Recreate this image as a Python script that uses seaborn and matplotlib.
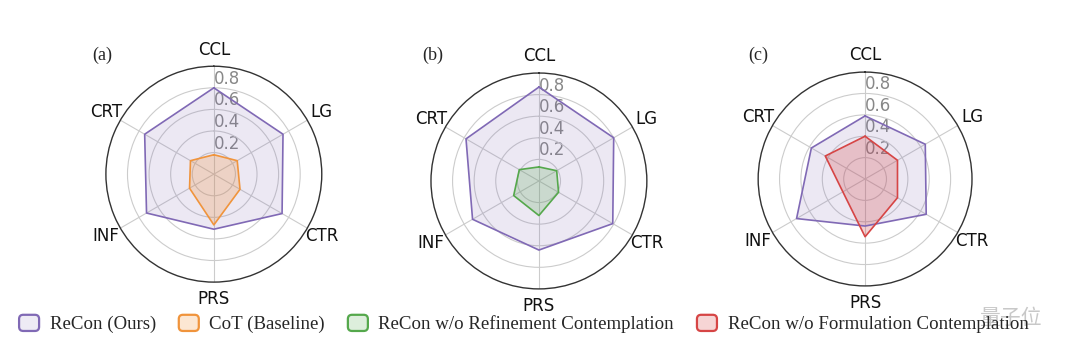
"""Radar charts comparing ReCon with its baselines / ablations (saved PNG)."""

import matplotlib

matplotlib.use("Agg")
import matplotlib.pyplot as plt
import numpy as np
import seaborn as sns
from matplotlib.colors import to_rgb
from matplotlib.legend_handler import HandlerPatch
from matplotlib.patches import FancyBboxPatch, Patch

# metric names, clockwise from the top
METRICS = ["CCL", "LG", "CTR", "PRS", "INF", "CRT"]
R_TICKS = [0.2, 0.4, 0.6, 0.8]

# (a) ReCon vs CoT
recon_a = [0.80, 0.74, 0.73, 0.51, 0.72, 0.74]
cot_a = [0.18, 0.25, 0.28, 0.47, 0.26, 0.25]
# (b) ReCon vs ReCon w/o refinement contemplation
recon_b = [0.87, 0.80, 0.79, 0.64, 0.71, 0.78]
wo_refine_b = [0.13, 0.19, 0.21, 0.32, 0.27, 0.21]
# (c) ReCon vs ReCon w/o formulation contemplation
recon_c = [0.59, 0.65, 0.66, 0.44, 0.74, 0.58]
wo_form_c = [0.40, 0.35, 0.35, 0.54, 0.24, 0.43]

LEGEND_NAMES = [
    "ReCon (Ours)",
    "CoT (Baseline)",
    "ReCon w/o Refinement Contemplation",
    "ReCon w/o Formulation Contemplation",
]

sns.set_theme(style="white")
plt.rcParams["font.family"] = ["DejaVu Sans", "Noto Sans CJK SC"]

colors = {
    "recon": "#8069b5",
    "cot": "#f0943c",
    "refine": "#55a84c",
    "form": "#d64545",
}
alphas = {"recon": 0.15, "cot": 0.25, "refine": 0.22, "form": 0.25}

angles = np.linspace(0, 2 * np.pi, len(METRICS), endpoint=False)


def tint(c, a):
    r = np.array(to_rgb(c))
    return tuple(1 - a + a * r)


# rounded square legend keys
class RoundBox(HandlerPatch):
    def create_artists(self, legend, orig, xd, yd, w, h, fontsize, trans):
        p = FancyBboxPatch((-xd + 1.5, -yd + 1.5), w - 3, h - 3,
                           boxstyle="round,pad=0,rounding_size=3",
                           fc=orig.get_facecolor(), ec=orig.get_edgecolor(),
                           lw=orig.get_linewidth(), transform=trans)
        return [p]


def radar(ax, series):
    ax.set_theta_offset(np.pi / 2)
    ax.set_theta_direction(-1)
    for vals, key in series:
        v = np.append(vals, vals[0])
        a = np.append(angles, angles[0])
        ax.fill(a, v, color=colors[key], alpha=alphas[key], lw=0)
        ax.plot(a, v, color=colors[key], lw=1.2)
    ax.set_ylim(0, 1.0)
    ax.set_xticks(angles)
    ax.set_xticklabels(METRICS, fontsize=12, color="#111111")
    ax.tick_params(axis="x", pad=-1)
    ax.set_yticks(R_TICKS)
    ax.set_yticklabels([f"{t:.1f}" for t in R_TICKS], fontsize=12, color="#888888")
    ax.set_rlabel_position(0)
    for lab in ax.get_yticklabels():
        lab.set_horizontalalignment("left")
        lab.set_verticalalignment("bottom")
    ax.grid(True, color="#cccccc", lw=0.8)
    ax.spines["polar"].set_color("#333333")
    ax.spines["polar"].set_linewidth(1.0)
    ax.set_facecolor("white")
    return ax


fig = plt.figure(figsize=(10.8, 3.58), dpi=100)
ax_a = fig.add_axes([0.098, 0.212, 0.2, 0.603], projection="polar")
ax_b = fig.add_axes([0.399, 0.193, 0.2, 0.603], projection="polar")
ax_c = fig.add_axes([0.702, 0.201, 0.198, 0.598], projection="polar")

radar(ax_a, [(recon_a, "recon"), (cot_a, "cot")])
radar(ax_b, [(recon_b, "recon"), (wo_refine_b, "refine")])
radar(ax_c, [(recon_c, "recon"), (wo_form_c, "form")])

serif = ["Liberation Serif", "DejaVu Serif"]
for x, letter in [(102, "(a)"), (433, "(b)"), (758, "(c)")]:
    fig.text(x / 1080, 1 - 55 / 358, letter, fontsize=13, family=serif,
             ha="center", va="center")

handles = [
    Patch(facecolor=tint(colors[k], alphas[k] * 0.9), edgecolor=colors[k], linewidth=1.6)
    for k in ["recon", "cot", "refine", "form"]
]
fig.legend(handles, LEGEND_NAMES, loc="center left", bbox_to_anchor=(17 / 1080, 1 - 323 / 358),
           ncol=4, frameon=False, prop={"family": serif, "size": 13.6},
           handlelength=1.28, handleheight=1.28, columnspacing=1.1, handletextpad=0.45,
           borderpad=0, borderaxespad=0, handler_map={Patch: RoundBox()})

# faint watermark
fig.text(1010 / 1080, 1 - 318 / 358, "量子位", fontsize=15, color="#bbbbbb",
         family=["Noto Sans CJK SC"], ha="center", va="center", alpha=0.8)

fig.savefig("out.png", dpi=100)
plt.close(fig)
